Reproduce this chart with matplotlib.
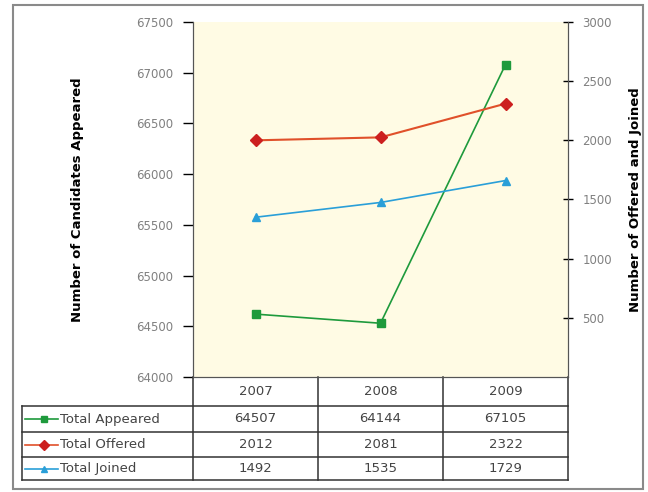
import matplotlib.pyplot as plt
from matplotlib.patches import Rectangle

years = ['2007', '2008', '2009']
series_names = ['Total Appeared', 'Total Offered', 'Total Joined']

# values printed in the data table
table_appeared = [64507, 64144, 67105]
table_offered = [2012, 2081, 2322]
table_joined = [1492, 1535, 1729]

# values as drawn on the chart
appeared = [64620, 64530, 67080]
offered = [2000, 2025, 2310]
joined = [1350, 1475, 1660]

left_ticks = [64000, 64500, 65000, 65500, 66000, 66500, 67000, 67500]
right_ticks = [500, 1000, 1500, 2000, 2500, 3000]

green, red, blue = '#1e9a3c', '#cc1f1f', '#2a9fd8'
red_line = '#e0502a'

W, H = 648, 492
fig = plt.figure(figsize=(W / 100, H / 100), dpi=100)
fig.patch.set_facecolor('white')

# outer frame
fig.patches.append(Rectangle((13 / W, 1 - 489 / H), 630 / W, 484 / H, transform=fig.transFigure,
                             fill=False, edgecolor='#8a8a8a', linewidth=1.5))

x0, x1, y0, y1 = 193, 568, 22, 377
ax = fig.add_axes([x0 / W, 1 - y1 / H, (x1 - x0) / W, (y1 - y0) / H])
ax.set_facecolor('#fffbe4')
ax2 = ax.twinx()

xs = [0.5, 1.5, 2.5]
ax.plot(xs, appeared, color=green, marker='s', markersize=6, linewidth=1.2, zorder=3)
ax2.plot(xs, offered, color=red_line, marker='D', markersize=6, markerfacecolor=red,
         markeredgecolor=red, linewidth=1.5, zorder=3)
ax2.plot(xs, joined, color=blue, marker='^', markersize=6, linewidth=1.2, zorder=3)

ax.set_xlim(0, 3)
ax.set_ylim(64000, 67500)
ax2.set_ylim(0, 3000)
ax.set_xticks([])
ax.set_yticks(left_ticks)
ax2.set_yticks(right_ticks)
ax.tick_params(axis='y', direction='out', length=7, width=1, labelsize=8.5, labelcolor='#808080', pad=7)
ax2.tick_params(axis='y', direction='inout', length=7, width=1, labelsize=8.5, labelcolor='#808080', pad=7)
for a in (ax, ax2):
    a.spines['top'].set_visible(False)
    for s in ('left', 'right', 'bottom'):
        a.spines[s].set_color('#555555')

ax.set_ylabel('Number of Candidates Appeared', fontsize=9.5, fontweight='bold', labelpad=38)
ax2.set_ylabel('Number of Offered and Joined', fontsize=9.5, fontweight='bold', rotation=90, labelpad=12)

# data table below the plot
def fx(px):
    return (px - x0) / (x1 - x0)

def fy(py):
    return (y1 - py) / (y1 - y0)

rows = [377, 406, 432, 457, 480]
lk = dict(color='#333333', linewidth=1.1, transform=ax.transAxes, clip_on=False)
for c in [0, 1 / 3, 2 / 3, 1]:
    ax.plot([c, c], [fy(rows[0]), fy(rows[-1])], **lk)
for r in rows[1:]:
    ax.plot([fx(22), 1], [fy(r), fy(r)], **lk)
ax.plot([fx(22), fx(22)], [fy(rows[1]), fy(rows[-1])], **lk)

for i, yr in enumerate(years):
    ax.text((i + 0.5) / 3, fy((rows[0] + rows[1]) / 2), yr, transform=ax.transAxes,
            ha='center', va='center', fontsize=9.5, color='#444444')

table_rows = [table_appeared, table_offered, table_joined]
styles = [(green, 's', green), (red_line, 'D', red), (blue, '^', blue)]
for j, (name, vals, (lc, mk, mc)) in enumerate(zip(series_names, table_rows, styles)):
    ym = fy((rows[j + 1] + rows[j + 2]) / 2)
    for i, v in enumerate(vals):
        ax.text((i + 0.5) / 3, ym, str(v), transform=ax.transAxes,
                ha='center', va='center', fontsize=9.5, color='#444444')
    ax.plot([fx(25), fx(58)], [ym, ym], color=lc, linewidth=1.2, transform=ax.transAxes, clip_on=False)
    ax.plot([fx(44)], [ym], marker=mk, color=mc, markersize=5, transform=ax.transAxes, clip_on=False)
    ax.text(fx(60), ym, name, transform=ax.transAxes, ha='left', va='center',
            fontsize=9.5, color='#444444')

fig.savefig('out.png', dpi=100)
